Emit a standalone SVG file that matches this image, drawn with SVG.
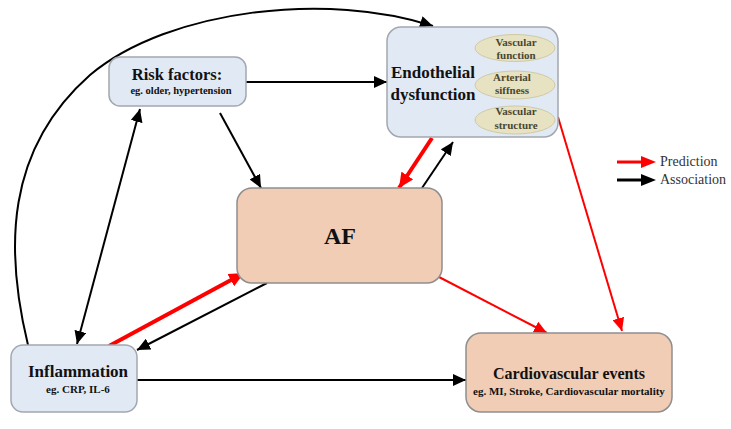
<svg xmlns="http://www.w3.org/2000/svg" width="731" height="429" viewBox="0 0 731 429">
<defs>
<style>
.t{font-family:"Liberation Serif","Times New Roman",serif;font-weight:bold;fill:#111;text-anchor:middle}
.blue{fill:#e1e9f5;stroke:#a3a8ae;stroke-width:1.5}
.peach{fill:#f0cdb4;stroke:#8e8e8e;stroke-width:1.5}
.ell{fill:#e6e2c2;stroke:#cfcaa6;stroke-width:1}
.et{font-family:"Liberation Serif","Times New Roman",serif;font-weight:bold;font-size:11px;fill:#4a4630;text-anchor:middle}
.blk{fill:none;stroke:#000;stroke-width:2;marker-end:url(#ab)}
.redT{fill:none;stroke:#f00;stroke-width:4;marker-end:url(#arT)}
.red{fill:none;stroke:#f00;stroke-width:2;marker-end:url(#ar)}
.lg{font-family:"Liberation Serif","Times New Roman",serif;font-size:14px;fill:#333}
</style>
<marker id="ab" markerUnits="userSpaceOnUse" markerWidth="14" markerHeight="12" refX="13" refY="6" orient="auto-start-reverse"><path d="M0,0 L13,6 L0,12 z" fill="#000"/></marker>
<marker id="arT" markerUnits="userSpaceOnUse" markerWidth="16" markerHeight="14" refX="15" refY="7" orient="auto"><path d="M0,0 L15,7 L0,14 z" fill="#f00"/></marker>
<marker id="ar" markerUnits="userSpaceOnUse" markerWidth="14" markerHeight="12" refX="13" refY="6" orient="auto"><path d="M0,0 L13,6 L0,12 z" fill="#f00"/></marker>
</defs>

<g id="connectors">
<path class="blk" d="M28,345 C5,250 5,150 90,75 C170,8 330,-8 433,26"/>
<path class="blk" d="M246,82 L387,82"/>
<path class="blk" d="M140,109 L77,344" style="marker-start:url(#ab)"/>
<path class="blk" d="M220,113 L261,188"/>
<path class="redT" d="M432,138 L399,188"/>
<path class="blk" d="M422,188 L453,142"/>
<path class="red" d="M558,117 L622,331"/>
<path class="red" d="M439,277 L547,333"/>
<path class="redT" d="M109,346 L244,273"/>
<path class="blk" d="M267,283 L137,350"/>
<path class="blk" d="M137,380 L466,380"/>
</g>

<g id="risk">
<rect class="blue" x="109" y="57" width="137" height="49" rx="11"/>
<text class="t" x="177" y="80" font-size="16.5">Risk factors:</text>
<text class="t" x="181" y="94" font-size="10.5">eg. older, hypertension</text>
</g>

<g id="endothelial">
<rect class="blue" x="387" y="27" width="171" height="110" rx="14"/>
<text class="t" x="433" y="78" font-size="17">Endothelial</text>
<text class="t" x="433" y="100" font-size="17">dysfunction</text>
<ellipse class="ell" cx="515" cy="48" rx="40" ry="13.5"/>
<text class="et" x="516" y="46">Vascular</text>
<text class="et" x="516" y="59">function</text>
<ellipse class="ell" cx="515" cy="85" rx="40" ry="14"/>
<text class="et" x="512" y="81">Arterial</text>
<text class="et" x="512" y="94">siffness</text>
<ellipse class="ell" cx="515" cy="120" rx="40" ry="14"/>
<text class="et" x="516" y="115">Vascular</text>
<text class="et" x="516" y="129">structure</text>
</g>

<g id="af">
<rect class="peach" x="237" y="188" width="205" height="95" rx="15"/>
<text class="t" x="340" y="244" font-size="24">AF</text>
</g>

<g id="inflammation">
<rect class="blue" x="11" y="345" width="126" height="67" rx="12"/>
<text class="t" x="78" y="377" font-size="17">Inflammation</text>
<text class="t" x="78" y="393" font-size="11">eg. CRP, IL-6</text>
</g>

<g id="cv">
<rect class="peach" x="466" y="333" width="206" height="79" rx="15"/>
<text class="t" x="569" y="379" font-size="16">Cardiovascular events</text>
<text class="t" x="569" y="395" font-size="11">eg. MI, Stroke, Cardiovascular mortality</text>
</g>

<g id="legend">
<path d="M617,162 L642,162" stroke="#f00" stroke-width="3"/>
<path d="M641,156 L656,162 L641,168 z" fill="#f00"/>
<path d="M617,180 L642,180" stroke="#000" stroke-width="3"/>
<path d="M641,174 L656,180 L641,186 z" fill="#000"/>
<text class="lg" x="660" y="166">Prediction</text>
<text class="lg" x="660" y="184">Association</text>
</g>
</svg>
